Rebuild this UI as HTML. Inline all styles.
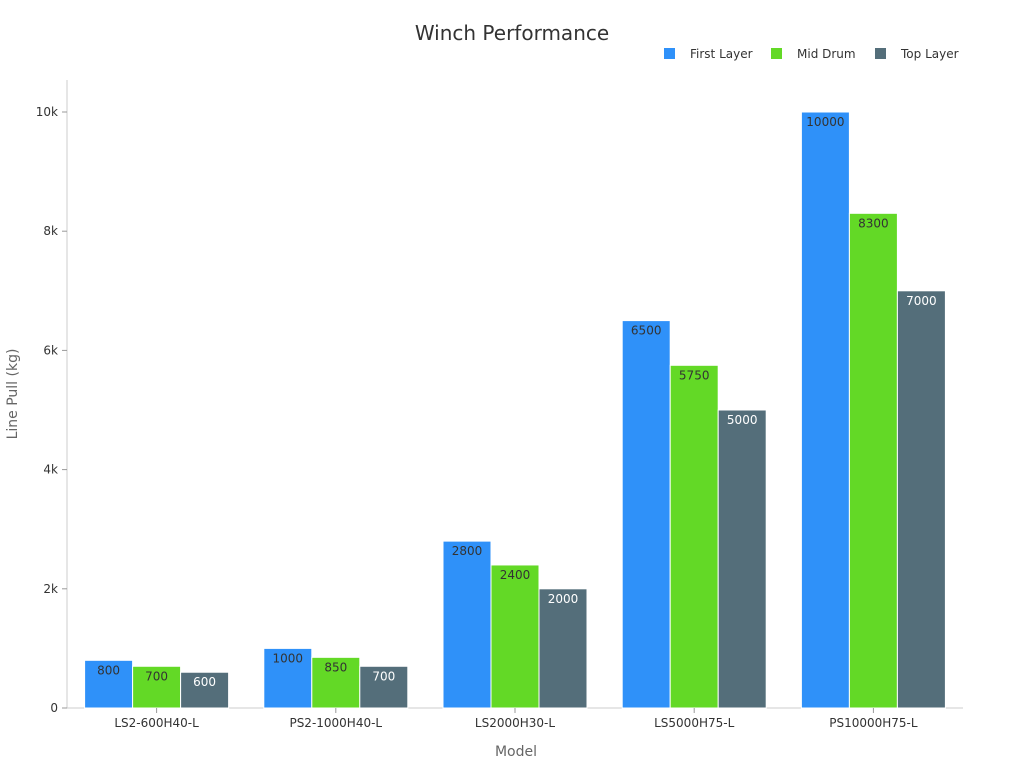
<!DOCTYPE html>
<html><head><meta charset="utf-8"><style>
body{margin:0;background:#fff;font-family:"Liberation Sans","DejaVu Sans",sans-serif}
</style></head><body>
<svg width="1024" height="768" id="c" font-family="DejaVu Sans, Liberation Sans, sans-serif">
<text x="512" y="40" text-anchor="middle" font-size="20" fill="#333">Winch Performance</text>
<g id="legend"></g>
<line x1="67" y1="80" x2="67" y2="708" stroke="#ccc"/>
<line x1="67" y1="708" x2="963" y2="708" stroke="#ccc"/>
<g id="yt"></g><g id="bars"></g><g id="xt"></g>
<text x="17" y="394" transform="rotate(-90 17 394)" text-anchor="middle" font-size="14" fill="#666">Line Pull (kg)</text>
<text x="516" y="756" text-anchor="middle" font-size="14" fill="#666">Model</text>
</svg>
<script>
const categories=["LS2-600H40-L","PS2-1000H40-L","LS2000H30-L","LS5000H75-L","PS10000H75-L"];
const seriesNames=["First Layer","Mid Drum","Top Layer"];
const firstLayer=[800,1000,2800,6500,10000];
const midDrum=[700,850,2400,5750,8300];
const topLayer=[600,700,2000,5000,7000];
const yTicks=[0,2000,4000,6000,8000,10000];
const yTickLabels=["0","2k","4k","6k","8k","10k"];
const colors=["#2f91f9","#63d926","#546e7a"];
const textCols=["#333","#333","#fff"];
const NS="http://www.w3.org/2000/svg";
const x0=67,x1=963,yb=708,ytop=112;
const y=v=>yb-(v/10000)*(yb-ytop);
const band=(x1-x0)/categories.length;
function mk(t,a,p){const e=document.createElementNS(NS,t);for(const k in a)e.setAttribute(k,a[k]);p.appendChild(e);return e;}
const yt=document.getElementById('yt');
yTicks.forEach((v,i)=>{
 const l=mk('line',{x1:62,x2:67,y1:y(v),y2:y(v),stroke:'#999'},yt);
 
 
 const t=mk('text',{x:58,y:y(v)+4,'text-anchor':'end','font-size':12,fill:'#333'},yt);
 t.textContent=yTickLabels[i];
 
 
});
const series=[firstLayer,midDrum,topLayer];
const bw=48,bg=document.getElementById('bars'),xt=document.getElementById('xt');
categories.forEach((c,i)=>{
 const cx=x0+band*(i+0.5);
 series.forEach((s,j)=>{
  const bx=cx-1.5*bw+j*bw;
  const r=mk('rect',{x:bx,y:y(s[i]),width:bw,height:yb-y(s[i]),fill:colors[j],stroke:'#fff','stroke-width':1},bg);
  
  
  const t=mk('text',{x:bx+bw/2,y:y(s[i])+14,'text-anchor':'middle','font-size':12,fill:textCols[j]},bg);
  t.textContent=s[i];
  
  
 });
 const tk=mk('line',{x1:cx,x2:cx,y1:708,y2:713,stroke:'#999'},xt);
 
 
 const t=mk('text',{x:cx,y:727,'text-anchor':'middle','font-size':12,fill:'#333'},xt);
 t.textContent=c;
 
 
});
const lg=document.getElementById('legend');const lx=[664,771,875];
seriesNames.forEach((n,j)=>{
 const r=mk('rect',{x:lx[j],y:48,width:11,height:11,fill:colors[j]},lg);
 
 
 const t=mk('text',{x:lx[j]+26,y:58,'font-size':12,fill:'#333'},lg);
 t.textContent=n;
 
 
});
</script>
</body></html>
